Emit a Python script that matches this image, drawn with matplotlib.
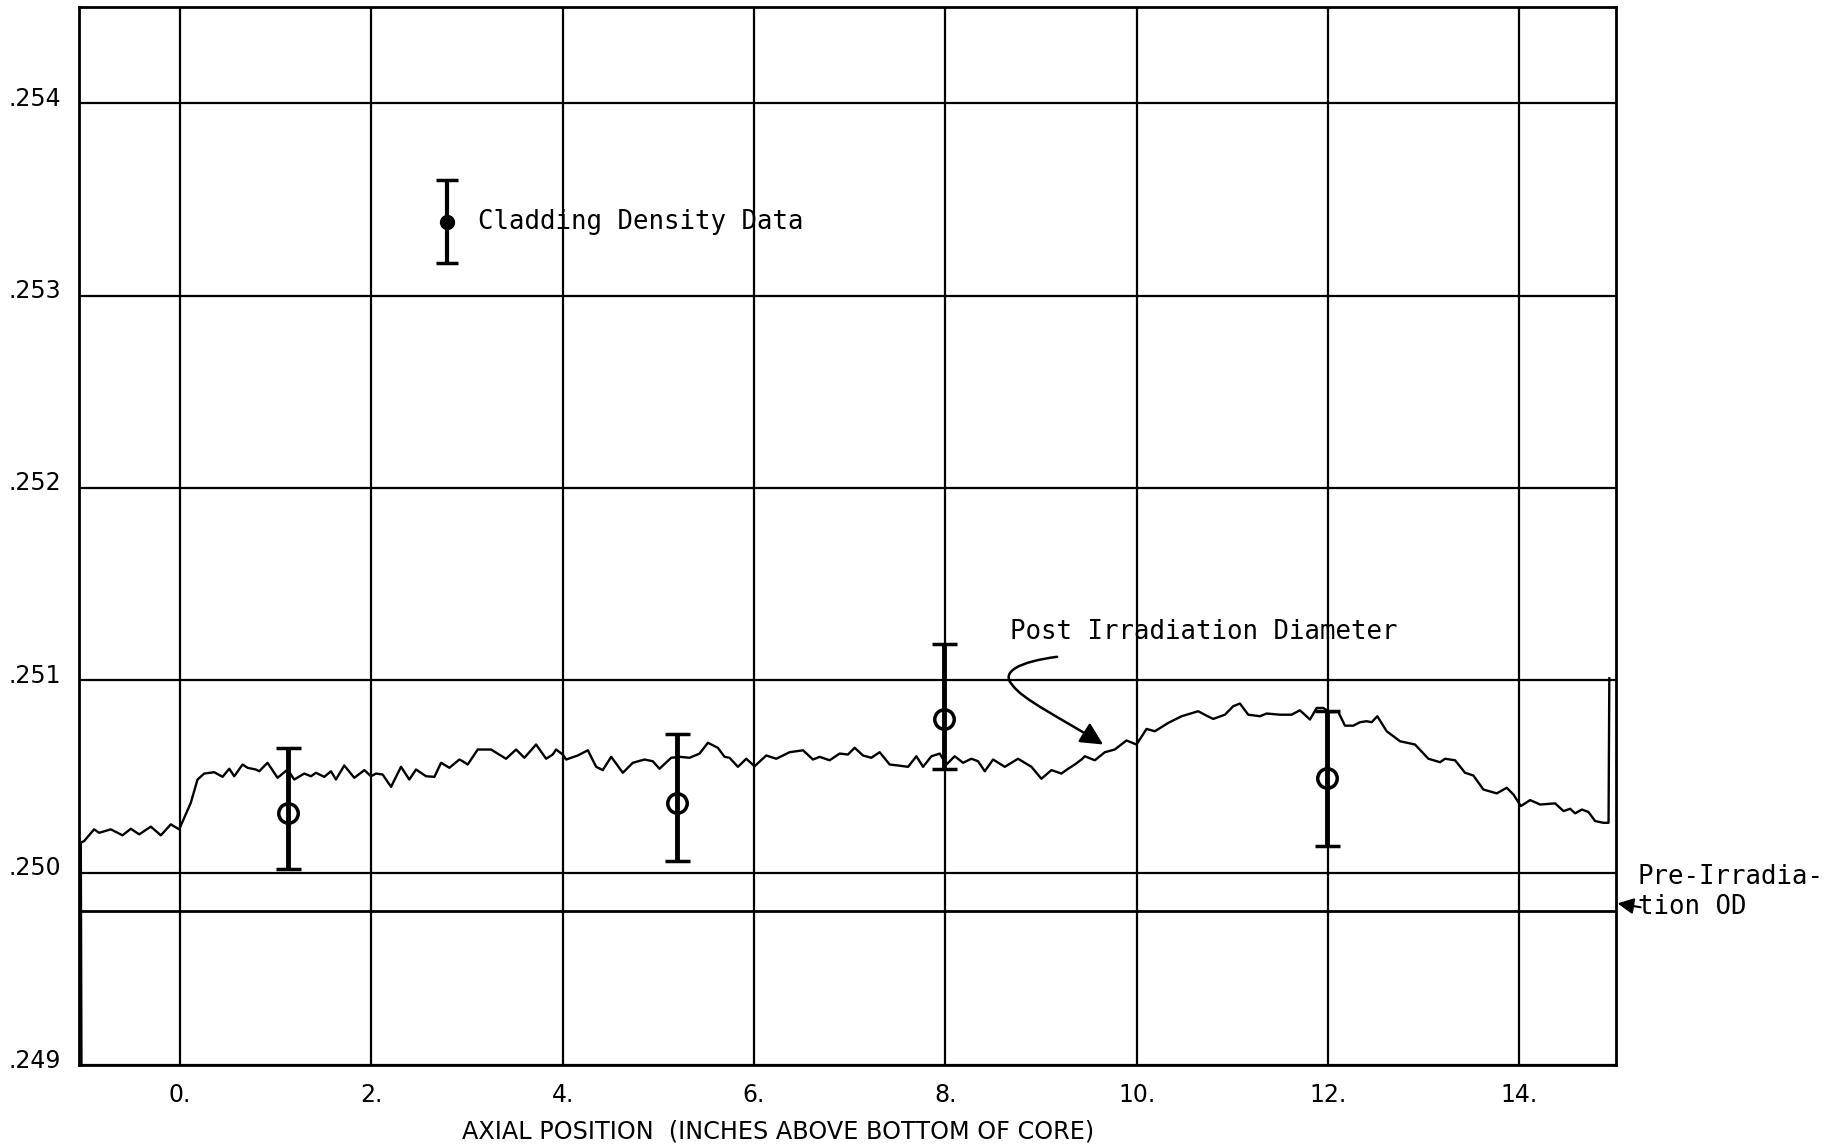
import matplotlib
matplotlib.use("Agg")
import matplotlib.pyplot as plt
from matplotlib.patches import FancyArrowPatch
from matplotlib.path import Path
from matplotlib.transforms import ScaledTranslation, blended_transform_factory

# post irradiation diameter trace
# axial position (inches above bottom of core)
trace_pos = [
    -1.03, -1.037, -1.002, -0.898, -0.845, -0.723, -0.601, -0.514, -0.427, -0.305,
    -0.200, -0.096, -0.009, 0.113, 0.183, 0.253, 0.358, 0.445, 0.515, 0.567,
    0.654, 0.706, 0.793, 0.828, 0.915, 1.020, 1.125, 1.194, 1.299, 1.369,
    1.421, 1.508, 1.578, 1.630, 1.717, 1.822, 1.927, 1.996, 2.049, 2.118,
    2.206, 2.310, 2.397, 2.467, 2.572, 2.659, 2.729, 2.816, 2.920,
    2.955, 3.007, 3.112, 3.251, 3.408, 3.513, 3.600, 3.722, 3.827, 3.896,
    3.931, 4.001, 4.036, 4.158, 4.263, 4.350, 4.419, 4.507, 4.629, 4.733,
    4.855, 4.942, 5.012, 5.134, 5.221, 5.326, 5.431, 5.518, 5.622, 5.692,
    5.744, 5.832, 5.919, 6.006, 6.128, 6.233, 6.372, 6.512, 6.616, 6.686,
    6.790, 6.895,
    6.982, 7.052, 7.139, 7.226, 7.313, 7.418, 7.505, 7.610, 7.697, 7.767,
    7.854, 7.941, 8.011, 8.098, 8.185, 8.272, 8.342, 8.412, 8.499, 8.621,
    8.760, 8.900, 9.004, 9.109, 9.213, 9.283, 9.353, 9.423, 9.458, 9.562,
    9.667, 9.771, 9.893, 9.998, 10.103, 10.190, 10.329, 10.469, 10.643, 10.730,
    10.800, 10.922,
    11.009, 11.079, 11.166, 11.288, 11.358, 11.497, 11.619, 11.706, 11.811, 11.881,
    11.950, 12.020, 12.107, 12.177, 12.264, 12.334, 12.404, 12.456, 12.515, 12.613,
    12.752, 12.909, 13.049, 13.171, 13.223, 13.328, 13.432, 13.519, 13.624, 13.763,
    13.868, 13.938, 14.015, 14.112, 14.217, 14.374, 14.461, 14.531, 14.583, 14.653,
    14.722, 14.792, 14.879, 14.932, 14.94,
]
# outside diameter (inches)
trace_od = [
    0.24900, 0.250156, 0.250164, 0.250225, 0.250207, 0.250225, 0.250194, 0.250228, 0.250199, 0.250239,
    0.250194, 0.250251, 0.250225, 0.250363, 0.250484, 0.250515, 0.250522, 0.250498, 0.250540, 0.250501,
    0.250562, 0.250545, 0.250536, 0.250527, 0.250571, 0.250493, 0.250536, 0.250484, 0.250515, 0.250501,
    0.250519, 0.250498, 0.250527, 0.250484, 0.250557, 0.250493, 0.250533, 0.250501, 0.250515, 0.250510,
    0.250446, 0.250550, 0.250484, 0.250536, 0.250501, 0.250498, 0.250571, 0.250545, 0.250588,
    0.250579, 0.250562, 0.250640, 0.250640, 0.250592, 0.250640, 0.250597, 0.250666, 0.250592, 0.250614,
    0.250640, 0.250614, 0.250588, 0.250609, 0.250636, 0.250550, 0.250533, 0.250602, 0.250519, 0.250571,
    0.250588, 0.250579, 0.250540, 0.250597, 0.250602, 0.250597, 0.250619, 0.250675, 0.250649, 0.250602,
    0.250597, 0.250550, 0.250592, 0.250553, 0.250609, 0.250592, 0.250626, 0.250636, 0.250588, 0.250602,
    0.250584, 0.250619,
    0.250614, 0.250649, 0.250609, 0.250597, 0.250626, 0.250562, 0.250557, 0.250550, 0.250605, 0.250550,
    0.250605, 0.250619, 0.250562, 0.250605, 0.250571, 0.250592, 0.250579, 0.250527, 0.250588, 0.250550,
    0.250592, 0.250550, 0.250488, 0.250533, 0.250515, 0.250540, 0.250562, 0.250588, 0.250605, 0.250584,
    0.250626, 0.250640, 0.250687, 0.250666, 0.250747, 0.250735, 0.250778, 0.250813, 0.250839, 0.250816,
    0.250799, 0.250821,
    0.250865, 0.250879, 0.250821, 0.250813, 0.250827, 0.250821, 0.250821, 0.250844, 0.250796, 0.250856,
    0.250856, 0.250834, 0.250835, 0.250764, 0.250764, 0.250782, 0.250787, 0.250782, 0.250813, 0.250735,
    0.250683, 0.250666, 0.250592, 0.250574, 0.250592, 0.250584, 0.250519, 0.250505, 0.250432, 0.250412,
    0.250441, 0.250406, 0.250346, 0.250377, 0.250354, 0.250360, 0.250320, 0.250332, 0.250308, 0.250328,
    0.250315, 0.250268, 0.250259, 0.250259, 0.25101,
]

# cladding density data
dens_pos = [1.13, 5.20, 7.99, 11.99]
dens_od = [0.25031, 0.25036, 0.25080, 0.25049]
dens_hi = [0.25065, 0.25072, 0.25119, 0.25084]
dens_lo = [0.25002, 0.25006, 0.25054, 0.25014]

pre_irr_od = 0.2498

x_ticks = [0, 2, 4, 6, 8, 10, 12, 14]
x_tick_labels = ["0.", "2.", "4.", "6.", "8.", "10.", "12.", "14."]
y_ticks = [0.249, 0.250, 0.251, 0.252, 0.253, 0.254]
y_tick_labels = [".249", ".250", ".251", ".252", ".253", ".254"]

MONO = "DejaVu Sans Mono"

fig = plt.figure(figsize=(18.26, 11.47), dpi=100)
ax = fig.add_axes([0.0433, 0.0715, 0.8417, 0.9224])

ax.set_xlim(-1.055, 15.01)
ax.set_ylim(0.249, 0.2545)

ax.set_xticks(x_ticks)
ax.set_xticklabels(x_tick_labels, fontsize=17)
ax.set_yticks(y_ticks)
ax.set_yticklabels(y_tick_labels, fontsize=17)
ax.tick_params(length=0)
ax.tick_params(axis="x", pad=13)
ax.tick_params(axis="y", pad=13)
for lbl in ax.get_yticklabels():
    lbl.set_transform(lbl.get_transform() + ScaledTranslation(0, 5 / 72, fig.dpi_scale_trans))

ax.grid(True, color="k", lw=1.6)
for sp in ax.spines.values():
    sp.set_linewidth(2)
    sp.set_color("k")

# pre-irradiation OD reference line
ax.axhline(pre_irr_od, color="k", lw=2)

# trace
ax.plot(trace_pos, trace_od, color="k", lw=1.7)

# density data with error bars
lower = [o - l for o, l in zip(dens_od, dens_lo)]
upper = [h - o for o, h in zip(dens_od, dens_hi)]
ax.errorbar(dens_pos, dens_od, yerr=[lower, upper], fmt="o", ms=14, mfc="none",
            mec="k", mew=2.5, ecolor="k", elinewidth=3.5, capsize=9, capthick=2.5)

# legend sample
ax.errorbar([2.79], [0.25338], yerr=[[0.00021], [0.00022]], fmt="o", ms=10,
            mfc="k", mec="k", ecolor="k", elinewidth=3, capsize=8, capthick=2.5)
ax.text(3.11, 0.25338, "Cladding Density Data", family=MONO, fontsize=18.5,
        ha="left", va="center")

# post irradiation annotation with curved arrow
ax.text(8.68, 0.25125, "Post Irradiation Diameter", family=MONO, fontsize=18.5,
        ha="left", va="center")
verts = [(9.168, 0.251122), (8.781, 0.251097), (8.572, 0.251045), (8.698, 0.250977),
         (8.803, 0.250900), (9.200, 0.250806), (9.649, 0.250666)]
codes = [Path.MOVETO, Path.CURVE4, Path.CURVE4, Path.CURVE4,
         Path.CURVE4, Path.CURVE4, Path.CURVE4]
arrow = FancyArrowPatch(path=Path(verts, codes), arrowstyle="-|>", color="k",
                        lw=1.8, mutation_scale=34)
ax.add_patch(arrow)

# pre-irradiation label outside the axes
trans = blended_transform_factory(ax.transAxes, ax.transData)
ax.text(1.0143, 0.2499, "Pre-Irradia-\ntion OD", transform=trans, family=MONO,
        fontsize=18.5, ha="left", va="center", linespacing=1.2)
ax.annotate("", xy=(1.001, 0.24984), xycoords=trans, xytext=(1.016, 0.24982),
            textcoords=trans, annotation_clip=False,
            arrowprops=dict(arrowstyle="-|>", color="k", lw=1.5, mutation_scale=24,
                            shrinkA=0, shrinkB=0))

ax.set_xlabel("AXIAL POSITION  (INCHES ABOVE BOTTOM OF CORE)", fontsize=17.2)
ax.xaxis.set_label_coords(0.455, -0.0633)
ax.xaxis.label.set_va("center")

fig.savefig("out.png", dpi=100)
